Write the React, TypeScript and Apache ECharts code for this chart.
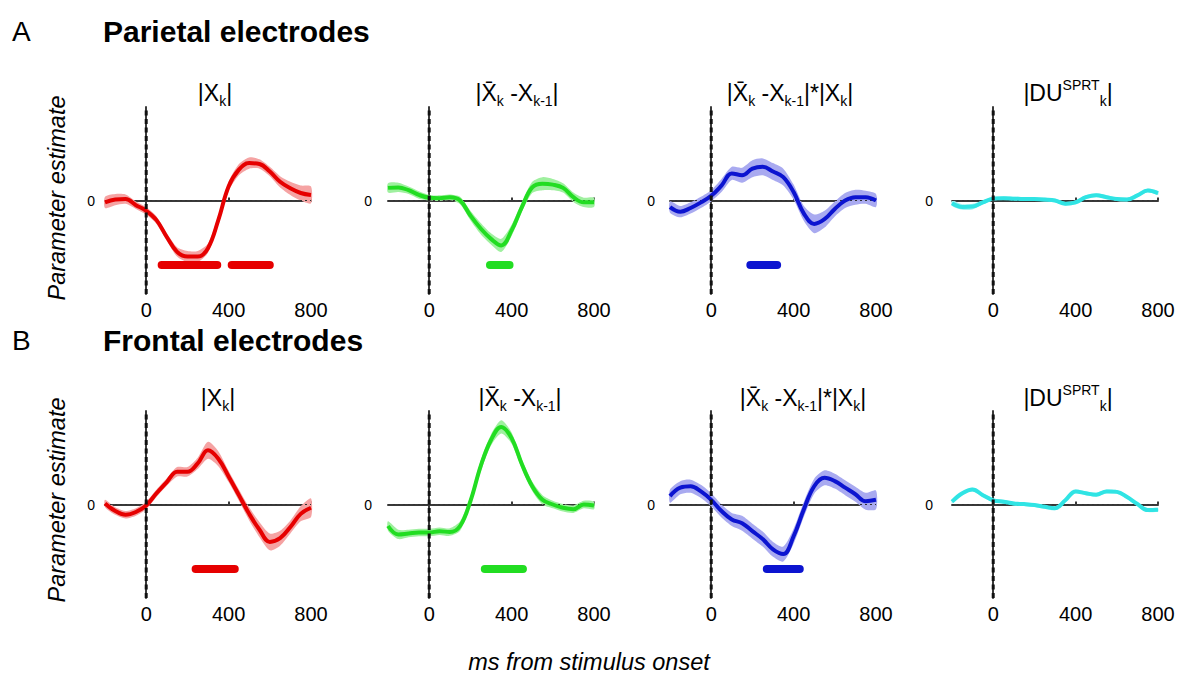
import React, { useEffect, useRef } from "react";
import * as echarts from "echarts";

// time points (ms from stimulus onset)
const times = [-200, -150, -100, -50, 0, 50, 100, 150, 200, 250, 300, 350, 400, 450, 500, 550, 600, 650, 700, 750, 800];

// Row A: parietal electrodes (mean parameter estimates, arbitrary units)
const parXk = [-0.02, 0.01, 0.015, -0.05, -0.11, -0.21, -0.39, -0.55, -0.6, -0.6, -0.51, -0.21, 0.15, 0.33, 0.4, 0.39, 0.31, 0.2, 0.13, 0.08, 0.06];
const parXkErr = [0.06, 0.06, 0.05, 0.04, 0.04, 0.04, 0.04, 0.05, 0.06, 0.06, 0.05, 0.05, 0.05, 0.06, 0.06, 0.05, 0.05, 0.06, 0.07, 0.08, 0.09];
const parDiff = [0.135, 0.14, 0.11, 0.06, 0.03, 0.025, 0.035, 0.0, -0.16, -0.3, -0.41, -0.48, -0.32, -0.07, 0.14, 0.18, 0.17, 0.135, 0.035, -0.02, -0.02];
const parDiffErr = [0.05, 0.05, 0.04, 0.04, 0.03, 0.03, 0.03, 0.04, 0.05, 0.06, 0.06, 0.07, 0.06, 0.05, 0.06, 0.07, 0.06, 0.05, 0.05, 0.05, 0.05];
const parProd = [-0.07, -0.12, -0.08, -0.02, 0.05, 0.16, 0.29, 0.27, 0.34, 0.36, 0.31, 0.25, 0.09, -0.14, -0.25, -0.2, -0.09, 0.0, 0.035, 0.035, 0.0];
const parProdErr = [0.06, 0.06, 0.06, 0.06, 0.06, 0.07, 0.07, 0.08, 0.09, 0.09, 0.09, 0.09, 0.08, 0.08, 0.1, 0.09, 0.08, 0.08, 0.08, 0.07, 0.07];
const parDU = [-0.03, -0.07, -0.065, -0.02, 0.02, 0.025, 0.02, 0.015, 0.015, 0.01, 0.0, -0.035, -0.02, 0.035, 0.057, 0.035, 0.015, 0.01, 0.054, 0.107, 0.08];
const parDUErr = [0.03, 0.03, 0.03, 0.02, 0.02, 0.02, 0.02, 0.02, 0.02, 0.02, 0.02, 0.02, 0.02, 0.02, 0.02, 0.02, 0.02, 0.02, 0.02, 0.02, 0.02];

// Row B: frontal electrodes
const froXk = [0.01, -0.07, -0.11, -0.08, -0.01, 0.12, 0.24, 0.35, 0.35, 0.44, 0.58, 0.49, 0.3, 0.1, -0.1, -0.27, -0.4, -0.36, -0.24, -0.1, -0.035];
const froXkErr = [0.04, 0.04, 0.04, 0.04, 0.04, 0.04, 0.04, 0.05, 0.05, 0.06, 0.09, 0.08, 0.06, 0.06, 0.07, 0.08, 0.09, 0.08, 0.07, 0.08, 0.1];
const froDiff = [-0.23, -0.32, -0.31, -0.3, -0.3, -0.285, -0.295, -0.23, 0.035, 0.41, 0.69, 0.83, 0.71, 0.43, 0.195, 0.05, 0.0, -0.035, -0.05, 0.0, -0.01];
const froDiffErr = [0.05, 0.05, 0.04, 0.04, 0.04, 0.04, 0.04, 0.05, 0.05, 0.06, 0.06, 0.07, 0.06, 0.05, 0.05, 0.05, 0.04, 0.04, 0.04, 0.04, 0.04];
const froProd = [0.09, 0.18, 0.195, 0.14, 0.05, -0.07, -0.16, -0.2, -0.285, -0.37, -0.48, -0.53, -0.34, -0.05, 0.195, 0.285, 0.25, 0.18, 0.11, 0.035, 0.05];
const froProdErr = [0.07, 0.07, 0.07, 0.07, 0.07, 0.07, 0.07, 0.08, 0.08, 0.08, 0.08, 0.08, 0.08, 0.08, 0.08, 0.08, 0.08, 0.08, 0.08, 0.09, 0.1];
const froDU = [0.03, 0.12, 0.16, 0.1, 0.045, 0.03, 0.01, 0.005, -0.005, -0.025, -0.04, 0.045, 0.14, 0.12, 0.105, 0.14, 0.135, 0.08, 0.005, -0.06, -0.055];
const froDUErr = [0.02, 0.02, 0.02, 0.02, 0.02, 0.02, 0.02, 0.02, 0.02, 0.02, 0.02, 0.02, 0.02, 0.02, 0.02, 0.02, 0.02, 0.02, 0.02, 0.02, 0.02];

// significant clusters [start ms, end ms]
const parXkSig = [[75, 345], [415, 600]];
const parDiffSig = [[295, 390]];
const parProdSig = [[190, 320]];
const parDUSig: number[][] = [];
const froXkSig = [[240, 430]];
const froDiffSig = [[270, 455]];
const froProdSig = [[270, 430]];
const froDUSig: number[][] = [];
const sigLevel = -0.69;

const xTickLabels = [0, 400, 800];

const panelTitles = [
  "{m||X}{s|k}{m||}",
  "{m||X\u0304}{s|k}{m| -X}{s|k-1}{m||}",
  "{m||X\u0304}{s|k}{m| -X}{s|k-1}{m||*|X}{s|k}{m||}",
  "{m||DU}{p|SPRT}{s|k}{m||}",
];

const FONT = "'Liberation Sans', Arial, Helvetica, sans-serif";

const COLORS = [
  { line: "#e60000", band: "#f5a3a3" },
  { line: "#22dd22", band: "#9ff09f" },
  { line: "#0c14d0", band: "#a9aaf0" },
  { line: "#30e4e4", band: "#a6f3f3" },
];

export default function App() {
  const ref = useRef<HTMLDivElement>(null);

  useEffect(() => {
    document.body.style.margin = "0";
    if (!ref.current) return;
    const chart = echarts.init(ref.current, null, { renderer: "svg" });

    const rows = [
      { means: [parXk, parDiff, parProd, parDU], errs: [parXkErr, parDiffErr, parProdErr, parDUErr], sigs: [parXkSig, parDiffSig, parProdSig, parDUSig] },
      { means: [froXk, froDiff, froProd, froDU], errs: [froXkErr, froDiffErr, froProdErr, froDUErr], sigs: [froXkSig, froDiffSig, froProdSig, froDUSig] },
    ];
    const gridTops = [107, 411];
    const gridHeight = 187;
    const gridLefts = [105, 388, 670, 952];
    const gridWidth = 206;
    const yLabelMargins = [10, 16, 15, 19];
    const titleX = [[215, 517, 790, 1068], [218, 520, 803, 1068]];
    const titleY = [93, 398];

    const grids: any[] = [];
    const xAxes: any[] = [];
    const yAxes: any[] = [];
    const series: any[] = [];
    const graphics: any[] = [];

    rows.forEach((row, r) => {
      for (let c = 0; c < 4; c++) {
        const gi = r * 4 + c;
        grids.push({ left: gridLefts[c], top: gridTops[r], width: gridWidth, height: gridHeight, containLabel: false });
        xAxes.push({
          type: "value",
          gridIndex: gi,
          min: -200,
          max: 800,
          interval: 200,
          axisLine: { show: true, lineStyle: { color: "#3a3a3a", width: 2 } },
          axisTick: { show: true, inside: true, length: 3, lineStyle: { color: "#3a3a3a", width: 2 }, customValues: xTickLabels },
          axisLabel: {
            show: true,
            customValues: xTickLabels,
            margin: 6,
            fontSize: 20,
            fontFamily: FONT,
            color: "#000",
            formatter: (v: number) => (xTickLabels.indexOf(v) >= 0 ? String(v) : ""),
          },
          splitLine: { show: false },
        });
        yAxes.push({
          type: "value",
          gridIndex: gi,
          min: -1,
          max: 1,
          interval: 1,
          axisLine: { show: true, lineStyle: { color: "#3a3a3a", width: 2 } },
          axisTick: { show: false },
          axisLabel: {
            show: true,
            margin: yLabelMargins[c],
            fontSize: 14,
            fontFamily: FONT,
            color: "#000",
            formatter: (v: number) => (v === 0 ? "0" : ""),
          },
          splitLine: { show: false },
        });

        const mean = row.means[c];
        const err = row.errs[c];
        const col = COLORS[c];
        const bandData = times.map((t, k) => [t, mean[k] - err[k], mean[k] + err[k]]);

        series.push({
          type: "custom",
          xAxisIndex: gi,
          yAxisIndex: gi,
          data: bandData,
          encode: { x: 0, y: [1, 2] },
          silent: true,
          renderItem: (params: any, api: any) => {
            if (params.dataIndex !== 0) return null;
            const upper = bandData.map((d) => api.coord([d[0], d[2]]));
            const lower = bandData.map((d) => api.coord([d[0], d[1]])).reverse();
            return {
              type: "polygon",
              shape: { points: upper.concat(lower), smooth: 0.25 },
              style: { fill: col.band, stroke: "none" },
            };
          },
          z: 1,
        });
        series.push({
          type: "line",
          xAxisIndex: gi,
          yAxisIndex: gi,
          data: [[-200, 0], [800, 0]],
          symbol: "none",
          silent: true,
          lineStyle: { color: "#333", width: 1.2, type: [2, 3] },
          z: 2,
        });
        series.push({
          type: "line",
          xAxisIndex: gi,
          yAxisIndex: gi,
          data: times.map((t, k) => [t, mean[k]]),
          symbol: "none",
          smooth: 0.4,
          silent: true,
          lineStyle: { color: col.line, width: 4 },
          z: 3,
        });
        row.sigs[c].forEach((s) => {
          series.push({
            type: "line",
            xAxisIndex: gi,
            yAxisIndex: gi,
            data: [[s[0], sigLevel], [s[1], sigLevel]],
            symbol: "none",
            silent: true,
            lineStyle: { color: col.line, width: 8, cap: "round" },
            z: 3,
          });
        });
        series.push({
          type: "line",
          xAxisIndex: gi,
          yAxisIndex: gi,
          data: [[0, -1], [0, 1]],
          symbol: "none",
          silent: true,
          lineStyle: { color: "#111", width: 3, type: [5, 3.5] },
          z: 4,
        });

        graphics.push({
          type: "text",
          x: titleX[r][c],
          y: titleY[r],
          style: {
            text: panelTitles[c],
            align: "center",
            verticalAlign: "middle",
            fill: "#000",
            rich: {
              m: { fontSize: 23, fontFamily: FONT, fill: "#000", lineHeight: 30, verticalAlign: "middle" },
              s: { fontSize: 14, fontFamily: FONT, fill: "#000", lineHeight: 14, verticalAlign: "bottom" },
              p: { fontSize: 14, fontFamily: FONT, fill: "#000", lineHeight: 14, verticalAlign: "top" },
            },
          },
        });
      }
    });

    graphics.push(
      { type: "text", x: 12, y: 31, style: { text: "A", font: `28px ${FONT}`, fill: "#000", verticalAlign: "middle" } },
      { type: "text", x: 103, y: 31, style: { text: "Parietal electrodes", font: `bold 30px ${FONT}`, fill: "#000", verticalAlign: "middle" } },
      { type: "text", x: 12, y: 340, style: { text: "B", font: `28px ${FONT}`, fill: "#000", verticalAlign: "middle" } },
      { type: "text", x: 103, y: 340, style: { text: "Frontal electrodes", font: `bold 30px ${FONT}`, fill: "#000", verticalAlign: "middle" } },
      { type: "text", x: 57, y: 198, rotation: Math.PI / 2, style: { text: "Parameter estimate", font: `italic 23.5px ${FONT}`, fill: "#000", align: "center", verticalAlign: "middle" } },
      { type: "text", x: 57, y: 500, rotation: Math.PI / 2, style: { text: "Parameter estimate", font: `italic 23.5px ${FONT}`, fill: "#000", align: "center", verticalAlign: "middle" } },
      { type: "text", x: 589, y: 662, style: { text: "ms from stimulus onset", font: `italic 23.5px ${FONT}`, fill: "#000", align: "center", verticalAlign: "middle" } }
    );

    chart.setOption({
      animation: false,
      backgroundColor: "#fff",
      grid: grids,
      xAxis: xAxes,
      yAxis: yAxes,
      series,
      graphic: graphics,
    });

    return () => chart.dispose();
  }, []);

  return <div ref={ref} style={{ width: 1189, height: 678 }} />;
}
